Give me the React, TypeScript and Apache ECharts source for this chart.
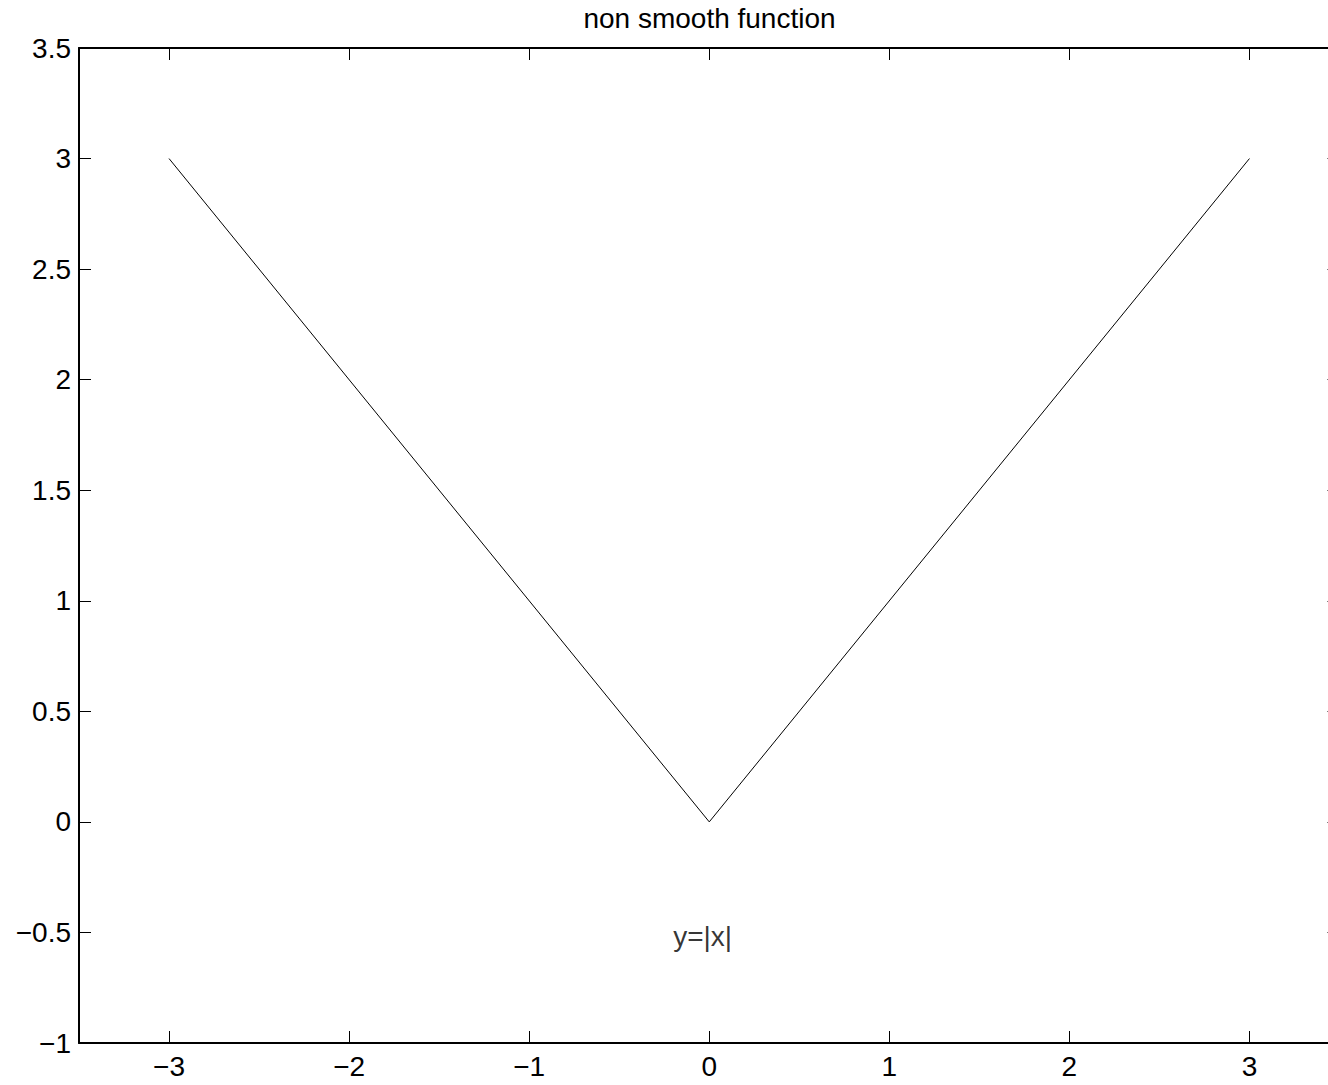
import React, { useEffect, useRef } from "react";
import * as echarts from "echarts";

const xValues = [-3, 0, 3];
const yValues = [3, 0, 3];
const xTicks = [-3, -2, -1, 0, 1, 2, 3];
const titleText = "non smooth function";
const noteText = "y=|x|";
const notePoint = [-0.2, -0.52];

const FONT = "Liberation Sans, Arial, Helvetica, sans-serif";
const fmt = (v: number) => String(v).replace("-", "\u2212");

export default function App() {
  const ref = useRef<HTMLDivElement>(null);
  useEffect(() => {
    if (!ref.current) return;
    const chart = echarts.init(ref.current, undefined, { renderer: "svg" });
    const fs = 28;
    const axisCommon = {
      type: "value" as const,
      axisLine: { show: true, onZero: false, lineStyle: { color: "#000", width: 2 } },
      axisTick: { show: true, inside: true, length: 12, lineStyle: { color: "#000", width: 1 } },
      splitLine: { show: false },
    };
    chart.setOption({
      animation: false,
      backgroundColor: "#fff",
      grid: { left: 79, top: 48, right: 60.5, bottom: 42, containLabel: false },
      graphic: [
        {
          type: "text",
          x: 709.5,
          y: 18,
          style: {
            text: titleText,
            font: `${fs}px ${FONT}`,
            fill: "#000",
            textAlign: "center",
            textVerticalAlign: "middle",
          },
        },
      ],
      xAxis: [
        {
          ...axisCommon,
          position: "bottom",
          min: -3.5,
          max: 3.5,
          axisTick: { ...axisCommon.axisTick, customValues: xTicks },
          axisLabel: {
            show: true,
            customValues: xTicks,
            formatter: (v: number) => fmt(v),
            color: "#000",
            fontSize: fs,
            fontFamily: FONT,
            margin: 9,
          },
        },
        {
          ...axisCommon,
          position: "top",
          min: -3.5,
          max: 3.5,
          axisTick: { ...axisCommon.axisTick, customValues: xTicks },
          axisLabel: { show: false },
        },
      ],
      yAxis: [
        {
          ...axisCommon,
          position: "left",
          min: -1,
          max: 3.5,
          interval: 0.5,
          axisLabel: {
            show: true,
            formatter: (v: number) => fmt(v),
            color: "#000",
            fontSize: fs,
            fontFamily: FONT,
            margin: 8,
          },
        },
        {
          ...axisCommon,
          position: "right",
          min: -1,
          max: 3.5,
          interval: 0.5,
          axisLabel: { show: false },
        },
      ],
      series: [
        {
          type: "line",
          data: xValues.map((x, i) => [x, yValues[i]]),
          showSymbol: false,
          symbol: "none",
          lineStyle: { color: "#000", width: 1 },
          silent: true,
        },
        {
          type: "scatter",
          data: [notePoint],
          symbolSize: 0,
          silent: true,
          label: {
            show: true,
            position: [0, 0],
            align: "left",
            verticalAlign: "middle",
            formatter: noteText,
            color: "#000",
            fontSize: fs,
            fontFamily: FONT,
          },
        },
      ],
    });
    return () => chart.dispose();
  }, []);
  return (
    <div style={{ position: "fixed", left: 0, top: 0, width: 1328, height: 1085, overflow: "hidden", background: "#fff" }}>
      <div ref={ref} style={{ width: 1400, height: 1085 }} />
    </div>
  );
}
